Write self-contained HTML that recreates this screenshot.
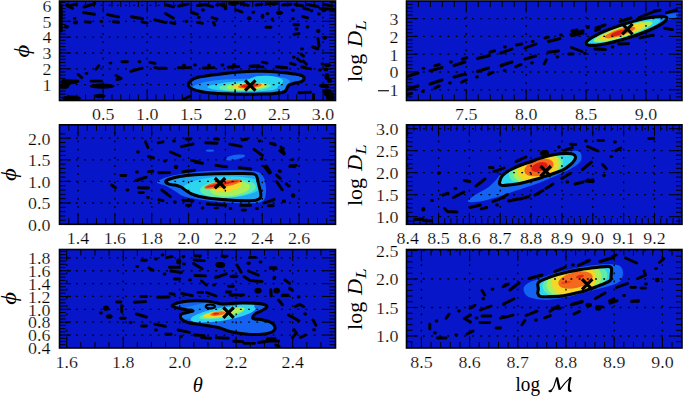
<!DOCTYPE html><html><head><meta charset="utf-8"><style>html,body{margin:0;padding:0;background:#fff}svg{display:block}</style></head><body><svg width="685" height="398" viewBox="0 0 685 398">
<style>.t{font-family:"Liberation Serif",serif;font-size:16px;fill:#000;stroke:#fff;stroke-width:0.2px}.a{font-family:"Liberation Serif",serif;font-size:20.5px;fill:#000}</style>
<rect width="685" height="398" fill="#fff"/>
<clipPath id="c0"><rect x="59.5" y="1" width="276" height="99.5"/></clipPath>
<g clip-path="url(#c0)">
<rect x="59.5" y="1" width="276" height="99.5" fill="rgb(6,22,200)"/>
<path d="M188.3 85.2C188.05 83.78 189.38 81.82 191 80.5C192.62 79.18 194.83 78.17 198 77.3C201.17 76.43 205.5 75.95 210 75.3C214.5 74.65 220 73.95 225 73.4C230 72.85 235 72.35 240 72C245 71.65 250 71.4 255 71.3C260 71.2 265.5 71.18 270 71.4C274.5 71.62 278.33 72.2 282 72.6C285.67 73 289 73.4 292 73.8C295 74.2 298 74.38 300 75C302 75.62 303.67 76.45 304 77.5C304.33 78.55 303.5 80.38 302 81.3C300.5 82.22 297.17 82.38 295 83C292.83 83.62 290.33 84.08 289 85C287.67 85.92 287.83 87.33 287 88.5C286.17 89.67 286 91.18 284 92C282 92.82 279 93.05 275 93.4C271 93.75 265 93.97 260 94.1C255 94.23 250 94.23 245 94.2C240 94.17 235 94.05 230 93.9C225 93.75 219.67 93.65 215 93.3C210.33 92.95 205.75 92.52 202 91.8C198.25 91.08 194.78 90.1 192.5 89C190.22 87.9 188.55 86.62 188.3 85.2Z" fill="rgb(20,98,242)"/>
<path d="M193 86.5C194.5 85.42 199.67 83.17 205 82C210.33 80.83 217.5 80.08 225 79.5C232.5 78.92 244.5 78.75 250 78.5C255.5 78.25 253.83 78.17 258 78C262.17 77.83 270.5 77.5 275 77.5C279.5 77.5 282.5 77.33 285 78C287.5 78.67 289.83 80.17 290 81.5C290.17 82.83 287.33 84.5 286 86C284.67 87.5 286.33 89.42 282 90.5C277.67 91.58 267.83 92.17 260 92.5C252.17 92.83 243.33 92.67 235 92.5C226.67 92.33 216.5 92.17 210 91.5C203.5 90.83 198.83 89.33 196 88.5C193.17 87.67 191.5 87.58 193 86.5Z" fill="rgb(28,150,244)"/>
<path d="M208 86.5C209.83 85.33 218.83 83.5 225 82.5C231.17 81.5 239.83 81.5 245 80.5C250.17 79.5 252.17 77.08 256 76.5C259.83 75.92 264.5 76.42 268 77C271.5 77.58 275.33 78.67 277 80C278.67 81.33 278.33 83.42 278 85C277.67 86.58 278.83 88.42 275 89.5C271.17 90.58 262.5 91.22 255 91.5C247.5 91.78 236.83 91.53 230 91.2C223.17 90.87 217.67 90.28 214 89.5C210.33 88.72 206.17 87.67 208 86.5Z" fill="rgb(44,214,238)"/>
<path d="M255 81C254 79.55 253.83 77.67 256 76.8C258.17 75.93 264.33 75.72 268 75.8C271.67 75.88 275.5 76.52 278 77.3C280.5 78.08 282.5 79.3 283 80.5C283.5 81.7 282.33 83.5 281 84.5C279.67 85.5 278.17 86.33 275 86.5C271.83 86.67 265.33 86.42 262 85.5C258.67 84.58 256 82.45 255 81Z" fill="rgb(44,214,238)"/>
<ellipse cx="245" cy="86.8" rx="26" ry="4.3" transform="rotate(-2 245 86.8)" fill="rgb(96,236,170)"/>
<ellipse cx="247" cy="86.4" rx="20" ry="3.6" transform="rotate(-3 247 86.4)" fill="rgb(170,240,90)"/>
<ellipse cx="249" cy="86" rx="16" ry="3" transform="rotate(-4 249 86)" fill="rgb(245,215,40)"/>
<ellipse cx="250" cy="85.8" rx="12" ry="2.5" transform="rotate(-5 250 85.8)" fill="rgb(245,105,28)"/>
<ellipse cx="249" cy="85.8" rx="8" ry="1.8" transform="rotate(-5 249 85.8)" fill="rgb(220,30,20)"/>
<path d="M188.3 85.2C188.05 83.78 189.38 81.82 191 80.5C192.62 79.18 194.83 78.17 198 77.3C201.17 76.43 205.5 75.95 210 75.3C214.5 74.65 220 73.95 225 73.4C230 72.85 235 72.35 240 72C245 71.65 250 71.4 255 71.3C260 71.2 265.5 71.18 270 71.4C274.5 71.62 278.33 72.2 282 72.6C285.67 73 289 73.4 292 73.8C295 74.2 298 74.38 300 75C302 75.62 303.67 76.45 304 77.5C304.33 78.55 303.5 80.38 302 81.3C300.5 82.22 297.17 82.38 295 83C292.83 83.62 290.33 84.08 289 85C287.67 85.92 287.83 87.33 287 88.5C286.17 89.67 286 91.18 284 92C282 92.82 279 93.05 275 93.4C271 93.75 265 93.97 260 94.1C255 94.23 250 94.23 245 94.2C240 94.17 235 94.05 230 93.9C225 93.75 219.67 93.65 215 93.3C210.33 92.95 205.75 92.52 202 91.8C198.25 91.08 194.78 90.1 192.5 89C190.22 87.9 188.55 86.62 188.3 85.2Z" fill="none" stroke="#000" stroke-width="3" stroke-linejoin="round" stroke-linecap="round"/>
<path d="M245.1 80.3L255.5 90.7M245.1 90.7L255.5 80.3" stroke="#000" stroke-width="3.2" stroke-linecap="butt"/>
<path d="M83.5 12.6L94.5 14.2M107.5 14.6L118.6 16.8M131.5 16.8L142.6 18.8M142 21.8L147 23M113.5 21.8L118.6 22.3M85.5 21.9L90.2 22.3M74.2 18.4L75 18.4M101.1 21.5L101.9 21.5M155 19.8L166 22.6M67.8 6.2L76.5 4.2M84 7L94.8 3.5M170.5 22.6L175 23.6M165.5 13.5L173.4 18.3M166.5 5L173.5 6.8M178.7 6L188.2 4.2M191.5 12.5L197.5 14.3M197.5 22.3L202.5 23.4M202.6 10L203.4 10M198.6 17.5L199.4 17.5M212 17.5L217 19.2M213.5 22.5L214.8 25M186.1 21.5L186.9 21.5M206 4.8L212.8 6.8M220.5 4.8L225.8 6.8M225.1 8.8L225.9 8.8M229.5 3.5L235 4.6M236.8 10L242 12M252.9 12.2L253.7 12.2M241 3.5L248 5.3M267.1 13.8L267.9 13.8M266 27.3L271 27.3M292.6 10.3L293.4 10.3M292.6 18.8L293.4 18.8M294 24.8L298.5 24.8M294 34.4L299 33.6M302.8 16.6L307.6 17.8M304 8.3L308.5 9.4M307.2 27L308 27M311.1 10.7L311.9 10.7M318.6 14L319.4 14M318 38.5L319 46M313.5 47.3L317.8 49M301.6 49L302.4 49M301 54L303.5 56M297.5 58.8L300.8 61.5M303.2 61L306.4 64.2M290.5 63.4L295.2 64.6M301.8 67L310.6 68.8M262.4 62.2L267 63.2M251 66.2L263 67M276.5 66.8L286.8 67.8M293.4 57.3L294.2 57.3M322.1 64L322.9 64M299 92.8L310.5 92.2M319.6 70L320.4 70M122 61.7L127.4 61.7M139.1 61.7L139.9 61.7M110.1 63.1L110.9 63.1M150 62.4L155 63.4M155 67.6L159 68.4M131 71.3L142 68.2M96 69.2L98.8 65.8M86.1 73.4L86.9 73.4M78.2 74.5L81.8 77.6M116 75.5L121 78.5M117 79.6L121 78.5M91 81.1L101.6 81.1M63 80.8L78 81.3M62 82.5L76 82.5M159.5 68.2L166 68.2M178.5 67.8L190 67.6M183.6 65.3L184.4 65.3M194.6 65L195.4 65M203.3 68L214 67.6M208.6 65.2L209.4 65.2M222.1 65L222.9 65M228.2 67.2L238.8 66.5M233.6 64.6L234.4 64.6M250 66.2L258.6 65.6M183 99.5L190.5 96M312.8 47L317.8 48.6M61.2 5L61.2 31M66.5 5L70.8 7.5M68.5 6.5L72.5 8.3M313.5 94.5L313.5 100M197.5 5.5L206.5 4.5M217 4.8L224 4M230 3.5L238 3.2M256 5L262 4.2M266 3.8L277 3.6M283 5L291 4.2M295 4.5L303 6M307 4.5L318 6.5M324 4.5L332 6M320 8.5L334 9.5" stroke="#000" stroke-width="2.9" stroke-linecap="round" fill="none"/>
<g fill="#000"><ellipse cx="75.5" cy="22.5" rx="2.5" ry="2"/><ellipse cx="66.5" cy="26.65" rx="2.5" ry="1.85"/><ellipse cx="249.25" cy="18.25" rx="2.25" ry="1.95"/><ellipse cx="262.55" cy="16.3" rx="1.85" ry="2.5"/><ellipse cx="272.3" cy="19.45" rx="1.6" ry="1.85"/><ellipse cx="279.5" cy="12.85" rx="3.5" ry="2.15"/><ellipse cx="296.5" cy="29.05" rx="2" ry="1.75"/><ellipse cx="318.25" cy="31" rx="2.25" ry="2"/><ellipse cx="323.8" cy="10.4" rx="2.5" ry="1.6"/><ellipse cx="324.75" cy="37.7" rx="2.25" ry="2"/><ellipse cx="326.95" cy="76.5" rx="2.45" ry="3.5"/><ellipse cx="326.6" cy="86.8" rx="2.8" ry="1.8"/><ellipse cx="329" cy="94.2" rx="5" ry="2.8"/><ellipse cx="102.1" cy="86.15" rx="12.4" ry="2.55"/><ellipse cx="64.1" cy="86.15" rx="5.1" ry="2.55"/><ellipse cx="99.85" cy="96" rx="5.85" ry="2.2"/><ellipse cx="71.5" cy="98.25" rx="9.5" ry="2.75"/><ellipse cx="327.5" cy="65" rx="3.5" ry="2"/><ellipse cx="326" cy="69.5" rx="2.5" ry="2"/><ellipse cx="329.5" cy="80.25" rx="2.5" ry="2.75"/><ellipse cx="323.25" cy="85.85" rx="4.25" ry="2.15"/><ellipse cx="327" cy="91.25" rx="4" ry="2.75"/><ellipse cx="330.25" cy="97.5" rx="4.25" ry="3"/></g>
</g>
<path d="M103.18 100.5V1M147.15 100.5V1M191.12 100.5V1M235.1 100.5V1M279.07 100.5V1M323.05 100.5V1M59.5 84.66H335.5M59.5 68.82H335.5M59.5 52.98H335.5M59.5 37.14H335.5M59.5 21.3H335.5M59.5 5.46H335.5" stroke="#000" stroke-width="1.3" stroke-dasharray="1.8 6.4" fill="none"/>
<path d="M103.18 100.5v-11.5M103.18 1v11.5M147.15 100.5v-11.5M147.15 1v11.5M191.12 100.5v-11.5M191.12 1v11.5M235.1 100.5v-11.5M235.1 1v11.5M279.07 100.5v-11.5M279.07 1v11.5M323.05 100.5v-11.5M323.05 1v11.5M59.5 84.66h11.5M335.5 84.66h-11.5M59.5 68.82h11.5M335.5 68.82h-11.5M59.5 52.98h11.5M335.5 52.98h-11.5M59.5 37.14h11.5M335.5 37.14h-11.5M59.5 21.3h11.5M335.5 21.3h-11.5M59.5 5.46h11.5M335.5 5.46h-11.5M68 100.5v-6M68 1v6M76.79 100.5v-6M76.79 1v6M85.59 100.5v-6M85.59 1v6M94.38 100.5v-6M94.38 1v6M111.97 100.5v-6M111.97 1v6M120.77 100.5v-6M120.77 1v6M129.56 100.5v-6M129.56 1v6M138.36 100.5v-6M138.36 1v6M155.94 100.5v-6M155.94 1v6M164.74 100.5v-6M164.74 1v6M173.54 100.5v-6M173.54 1v6M182.33 100.5v-6M182.33 1v6M199.92 100.5v-6M199.92 1v6M208.72 100.5v-6M208.72 1v6M217.51 100.5v-6M217.51 1v6M226.31 100.5v-6M226.31 1v6M243.9 100.5v-6M243.9 1v6M252.69 100.5v-6M252.69 1v6M261.49 100.5v-6M261.49 1v6M270.28 100.5v-6M270.28 1v6M287.87 100.5v-6M287.87 1v6M296.67 100.5v-6M296.67 1v6M305.46 100.5v-6M305.46 1v6M314.25 100.5v-6M314.25 1v6M331.85 100.5v-6M331.85 1v6M59.5 97.33h6M335.5 97.33h-6M59.5 94.16h6M335.5 94.16h-6M59.5 91h6M335.5 91h-6M59.5 87.83h6M335.5 87.83h-6M59.5 81.49h6M335.5 81.49h-6M59.5 78.32h6M335.5 78.32h-6M59.5 75.16h6M335.5 75.16h-6M59.5 71.99h6M335.5 71.99h-6M59.5 65.65h6M335.5 65.65h-6M59.5 62.48h6M335.5 62.48h-6M59.5 59.32h6M335.5 59.32h-6M59.5 56.15h6M335.5 56.15h-6M59.5 49.81h6M335.5 49.81h-6M59.5 46.64h6M335.5 46.64h-6M59.5 43.48h6M335.5 43.48h-6M59.5 40.31h6M335.5 40.31h-6M59.5 33.97h6M335.5 33.97h-6M59.5 30.8h6M335.5 30.8h-6M59.5 27.64h6M335.5 27.64h-6M59.5 24.47h6M335.5 24.47h-6M59.5 18.13h6M335.5 18.13h-6M59.5 14.96h6M335.5 14.96h-6M59.5 11.8h6M335.5 11.8h-6M59.5 8.63h6M335.5 8.63h-6M59.5 2.29h6M335.5 2.29h-6" stroke="#000" stroke-width="1" fill="none"/>
<rect x="59.5" y="1" width="276" height="99.5" fill="none" stroke="#000" stroke-width="1.6"/>
<clipPath id="c1"><rect x="59.5" y="124.8" width="276" height="99.5"/></clipPath>
<g clip-path="url(#c1)">
<rect x="59.5" y="124.8" width="276" height="99.5" fill="rgb(6,22,200)"/>
<path d="M157 182C157.5 181.08 160 179.67 163 178.5C166 177.33 169.67 176.08 175 175C180.33 173.92 187.5 172.75 195 172C202.5 171.25 211.67 170.75 220 170.5C228.33 170.25 238.67 170.25 245 170.5C251.33 170.75 254.83 170.75 258 172C261.17 173.25 262.67 175 264 178C265.33 181 266 186.33 266 190C266 193.67 265.83 197.83 264 200C262.17 202.17 259.83 202.5 255 203C250.17 203.5 241.67 203.25 235 203C228.33 202.75 221.5 202.17 215 201.5C208.5 200.83 201.33 199.92 196 199C190.67 198.08 186.67 197.42 183 196C179.33 194.58 176.83 192.17 174 190.5C171.17 188.83 168.33 187.08 166 186C163.67 184.92 161.5 184.67 160 184C158.5 183.33 156.5 182.92 157 182Z" fill="rgb(20,98,242)"/>
<clipPath id="l2c"><path d="M165.7 181.4C165.87 180.53 167.62 179.82 170 179C172.38 178.18 175.83 177.2 180 176.5C184.17 175.8 189.17 175.25 195 174.8C200.83 174.35 208.33 174 215 173.8C221.67 173.6 228.83 173.6 235 173.6C241.17 173.6 248.42 173.4 252 173.8C255.58 174.2 255.42 174.3 256.5 176C257.58 177.7 257.83 181.33 258.5 184C259.17 186.67 260.17 189.75 260.5 192C260.83 194.25 261.25 196.12 260.5 197.5C259.75 198.88 258.58 199.75 256 200.3C253.42 200.85 250.17 200.88 245 200.8C239.83 200.72 231.67 200.35 225 199.8C218.33 199.25 210.33 198.38 205 197.5C199.67 196.62 196.17 195.67 193 194.5C189.83 193.33 188 191.75 186 190.5C184 189.25 182.83 187.92 181 187C179.17 186.08 177 185.47 175 185C173 184.53 170.55 184.8 169 184.2C167.45 183.6 165.53 182.27 165.7 181.4Z"/></clipPath>
<g clip-path="url(#l2c)">
<path d="M165.7 181.4C165.87 180.53 167.62 179.82 170 179C172.38 178.18 175.83 177.2 180 176.5C184.17 175.8 189.17 175.25 195 174.8C200.83 174.35 208.33 174 215 173.8C221.67 173.6 228.83 173.6 235 173.6C241.17 173.6 248.42 173.4 252 173.8C255.58 174.2 255.42 174.3 256.5 176C257.58 177.7 257.83 181.33 258.5 184C259.17 186.67 260.17 189.75 260.5 192C260.83 194.25 261.25 196.12 260.5 197.5C259.75 198.88 258.58 199.75 256 200.3C253.42 200.85 250.17 200.88 245 200.8C239.83 200.72 231.67 200.35 225 199.8C218.33 199.25 210.33 198.38 205 197.5C199.67 196.62 196.17 195.67 193 194.5C189.83 193.33 188 191.75 186 190.5C184 189.25 182.83 187.92 181 187C179.17 186.08 177 185.47 175 185C173 184.53 170.55 184.8 169 184.2C167.45 183.6 165.53 182.27 165.7 181.4Z" fill="rgb(34,168,243)"/>
<ellipse cx="222" cy="187.5" rx="40" ry="11" transform="rotate(-3 222 187.5)" fill="rgb(44,214,238)"/>
<ellipse cx="228" cy="188.5" rx="28" ry="9" transform="rotate(-4 228 188.5)" fill="rgb(96,236,170)"/>
<ellipse cx="230" cy="188.5" rx="20" ry="7.5" transform="rotate(-6 230 188.5)" fill="rgb(170,240,90)"/>
<ellipse cx="228" cy="186.5" rx="14" ry="5" transform="rotate(-10 228 186.5)" fill="rgb(245,215,40)"/>
<ellipse cx="223" cy="184" rx="19" ry="3.2" transform="rotate(-11 223 184)" fill="rgb(245,105,28)"/>
<ellipse cx="222" cy="184" rx="17" ry="1.3" transform="rotate(-11 222 184)" fill="rgb(220,30,20)"/>
</g>
<path d="M165.7 181.4C165.87 180.53 167.62 179.82 170 179C172.38 178.18 175.83 177.2 180 176.5C184.17 175.8 189.17 175.25 195 174.8C200.83 174.35 208.33 174 215 173.8C221.67 173.6 228.83 173.6 235 173.6C241.17 173.6 248.42 173.4 252 173.8C255.58 174.2 255.42 174.3 256.5 176C257.58 177.7 257.83 181.33 258.5 184C259.17 186.67 260.17 189.75 260.5 192C260.83 194.25 261.25 196.12 260.5 197.5C259.75 198.88 258.58 199.75 256 200.3C253.42 200.85 250.17 200.88 245 200.8C239.83 200.72 231.67 200.35 225 199.8C218.33 199.25 210.33 198.38 205 197.5C199.67 196.62 196.17 195.67 193 194.5C189.83 193.33 188 191.75 186 190.5C184 189.25 182.83 187.92 181 187C179.17 186.08 177 185.47 175 185C173 184.53 170.55 184.8 169 184.2C167.45 183.6 165.53 182.27 165.7 181.4Z" fill="none" stroke="#000" stroke-width="3" stroke-linejoin="round" stroke-linecap="round"/>
<path d="M214.8 178L225.2 188.4M214.8 188.4L225.2 178" stroke="#000" stroke-width="3.2" stroke-linecap="butt"/>
<ellipse cx="210" cy="150.6" rx="4.2" ry="1.2" transform="rotate(0 210 150.6)" fill="rgb(20,98,242)"/>
<path d="M226.5 158C227.17 157.18 229.75 156.17 232 155.6C234.25 155.03 237.83 154.67 240 154.6C242.17 154.53 244.5 154.72 245 155.2C245.5 155.68 244.5 156.78 243 157.5C241.5 158.22 238.5 159 236 159.5C233.5 160 229.58 160.75 228 160.5C226.42 160.25 225.83 158.82 226.5 158Z" fill="rgb(20,98,242)"/>
<path d="M158.2 142.8L163 141.8M145.5 141.8L148 147.6M173.6 141L174.4 141M181.5 146.6L193 144M186 139L190.6 139M137.6 152L138.4 152M170.5 152L179.8 156M148.5 156.5L153.5 158M164.6 161L165.4 161M191.6 160.4L199.5 162.2M148.5 171.8L152.8 171.3M158.8 172.8L169.5 172.6M183 171.8L194.5 170.2M136.6 172L137.4 172M205.7 142.8L217.1 143.2M214.5 138.9L218.5 139.2M229.8 144.2L241.2 146.4M242.2 140L247.1 139M254 149.3L262.4 155.5M270.7 143.4L274.8 144.2M281 147L284.3 153.4M195.5 162.4L202.5 163.3M215.9 165.4L226.5 166.7M239.3 167.6L250.7 169M264.2 166.2L269.6 173M290.5 165.8L294.5 166.8M259.1 141L259.9 141M261.1 159L261.9 159M279.1 171L279.9 171M270.5 143.3L275.3 145M282.6 148.4L283.4 148.4M279.8 150.6L284.2 154M292 159.6L292.8 159.6M289.8 166.2L296.2 165.4M266.5 166L270.5 172.5M279.6 171.5L280.4 171.5M121 175.5L125.7 175.5M136.3 180.5L146.2 177.2M111.5 185L115.5 187.8M127.1 190L127.9 190M138.5 187.8L148.5 188M139.2 192.6L143.3 192.6M147.6 197.5L148.4 197.5M161.8 190L170.3 196.6M159 199.8L163 200.7M174.6 202L175.4 202M183 200.2L193 200.7M186.5 205.4L190.5 205.4M207.2 204L225.9 205.2M240.8 205.4L250.7 205.4M242.2 210.1L245.5 210.1M264.2 203L274 199.6M268.5 205.8L273.3 205.8M202.1 208L202.9 208M230.1 208.5L230.9 208.5M256.6 208.5L257.4 208.5M276.5 175.2L280.4 178.6M276.8 181.8L282.2 189.8M286.1 184L286.9 184M293.1 196L293.9 196M283.3 201L284.1 201M288.4 186L289.2 186M283.8 201.5L284.6 201.5" stroke="#000" stroke-width="2.9" stroke-linecap="round" fill="none"/>
<g fill="#000"><ellipse cx="176" cy="167" rx="2.2" ry="2.2"/><ellipse cx="216.25" cy="208.05" rx="2.75" ry="1.25"/><ellipse cx="293.1" cy="195.5" rx="2.1" ry="2.3"/></g>
</g>
<path d="M78.05 224.3V124.8M114.89 224.3V124.8M151.73 224.3V124.8M188.57 224.3V124.8M225.41 224.3V124.8M262.25 224.3V124.8M299.09 224.3V124.8M59.5 203H335.5M59.5 181.4H335.5M59.5 159.8H335.5M59.5 138.2H335.5" stroke="#000" stroke-width="1.3" stroke-dasharray="1.8 6.4" fill="none"/>
<path d="M78.05 224.3v-11.5M78.05 124.8v11.5M114.89 224.3v-11.5M114.89 124.8v11.5M151.73 224.3v-11.5M151.73 124.8v11.5M188.57 224.3v-11.5M188.57 124.8v11.5M225.41 224.3v-11.5M225.41 124.8v11.5M262.25 224.3v-11.5M262.25 124.8v11.5M299.09 224.3v-11.5M299.09 124.8v11.5M59.5 203h11.5M335.5 203h-11.5M59.5 181.4h11.5M335.5 181.4h-11.5M59.5 159.8h11.5M335.5 159.8h-11.5M59.5 138.2h11.5M335.5 138.2h-11.5M68.84 224.3v-6M68.84 124.8v6M87.26 224.3v-6M87.26 124.8v6M96.47 224.3v-6M96.47 124.8v6M105.68 224.3v-6M105.68 124.8v6M124.1 224.3v-6M124.1 124.8v6M133.31 224.3v-6M133.31 124.8v6M142.52 224.3v-6M142.52 124.8v6M160.94 224.3v-6M160.94 124.8v6M170.15 224.3v-6M170.15 124.8v6M179.36 224.3v-6M179.36 124.8v6M197.78 224.3v-6M197.78 124.8v6M206.99 224.3v-6M206.99 124.8v6M216.2 224.3v-6M216.2 124.8v6M234.62 224.3v-6M234.62 124.8v6M243.83 224.3v-6M243.83 124.8v6M253.04 224.3v-6M253.04 124.8v6M271.46 224.3v-6M271.46 124.8v6M280.67 224.3v-6M280.67 124.8v6M289.88 224.3v-6M289.88 124.8v6M308.3 224.3v-6M308.3 124.8v6M317.51 224.3v-6M317.51 124.8v6M326.72 224.3v-6M326.72 124.8v6M59.5 220.28h6M335.5 220.28h-6M59.5 215.96h6M335.5 215.96h-6M59.5 211.64h6M335.5 211.64h-6M59.5 207.32h6M335.5 207.32h-6M59.5 198.68h6M335.5 198.68h-6M59.5 194.36h6M335.5 194.36h-6M59.5 190.04h6M335.5 190.04h-6M59.5 185.72h6M335.5 185.72h-6M59.5 177.08h6M335.5 177.08h-6M59.5 172.76h6M335.5 172.76h-6M59.5 168.44h6M335.5 168.44h-6M59.5 164.12h6M335.5 164.12h-6M59.5 155.48h6M335.5 155.48h-6M59.5 151.16h6M335.5 151.16h-6M59.5 146.84h6M335.5 146.84h-6M59.5 142.52h6M335.5 142.52h-6M59.5 133.88h6M335.5 133.88h-6" stroke="#000" stroke-width="1" fill="none"/>
<rect x="59.5" y="124.8" width="276" height="99.5" fill="none" stroke="#000" stroke-width="1.6"/>
<clipPath id="c2"><rect x="59.5" y="249.5" width="276" height="98.5"/></clipPath>
<g clip-path="url(#c2)">
<rect x="59.5" y="249.5" width="276" height="98.5" fill="rgb(6,22,200)"/>
<path d="M172.5 306.3C171.17 305.17 175.08 303.68 178 302.8C180.92 301.92 185.5 301.3 190 301C194.5 300.7 200.83 300.75 205 301C209.17 301.25 212.17 302 215 302.5C217.83 303 217.83 303.92 222 304C226.17 304.08 234.5 303.12 240 303C245.5 302.88 251.08 303.08 255 303.3C258.92 303.52 261.5 303.68 263.5 304.3C265.5 304.92 267.25 305.97 267 307C266.75 308.03 264 309.33 262 310.5C260 311.67 256.5 312.67 255 314C253.5 315.33 251.83 317.53 253 318.5C254.17 319.47 259 319.13 262 319.8C265 320.47 268.83 321.22 271 322.5C273.17 323.78 274.83 325.92 275 327.5C275.17 329.08 274.17 330.87 272 332C269.83 333.13 266.5 333.97 262 334.3C257.5 334.63 250.33 334.47 245 334C239.67 333.53 234.5 332.58 230 331.5C225.5 330.42 223 328.67 218 327.5C213 326.33 205 325.33 200 324.5C195 323.67 191.08 323.42 188 322.5C184.92 321.58 182.67 320.33 181.5 319C180.33 317.67 180.08 315.58 181 314.5C181.92 313.42 185 313.12 187 312.5C189 311.88 193.17 311.28 193 310.8C192.83 310.32 189.42 310.35 186 309.6C182.58 308.85 173.83 307.43 172.5 306.3Z" fill="rgb(20,98,242)"/>
<clipPath id="l3c"><path d="M172.5 306.3C171.17 305.17 175.08 303.68 178 302.8C180.92 301.92 185.5 301.3 190 301C194.5 300.7 200.83 300.75 205 301C209.17 301.25 212.17 302 215 302.5C217.83 303 217.83 303.92 222 304C226.17 304.08 234.5 303.12 240 303C245.5 302.88 251.08 303.08 255 303.3C258.92 303.52 261.5 303.68 263.5 304.3C265.5 304.92 267.25 305.97 267 307C266.75 308.03 264 309.33 262 310.5C260 311.67 256.5 312.67 255 314C253.5 315.33 251.83 317.53 253 318.5C254.17 319.47 259 319.13 262 319.8C265 320.47 268.83 321.22 271 322.5C273.17 323.78 274.83 325.92 275 327.5C275.17 329.08 274.17 330.87 272 332C269.83 333.13 266.5 333.97 262 334.3C257.5 334.63 250.33 334.47 245 334C239.67 333.53 234.5 332.58 230 331.5C225.5 330.42 223 328.67 218 327.5C213 326.33 205 325.33 200 324.5C195 323.67 191.08 323.42 188 322.5C184.92 321.58 182.67 320.33 181.5 319C180.33 317.67 180.08 315.58 181 314.5C181.92 313.42 185 313.12 187 312.5C189 311.88 193.17 311.28 193 310.8C192.83 310.32 189.42 310.35 186 309.6C182.58 308.85 173.83 307.43 172.5 306.3Z"/></clipPath>
<g clip-path="url(#l3c)">
<ellipse cx="210" cy="310" rx="36" ry="7.5" transform="rotate(-8 210 310)" fill="rgb(26,130,244)"/>
<ellipse cx="223" cy="314" rx="33" ry="6.5" transform="rotate(-10 223 314)" fill="rgb(44,214,238)"/>
<ellipse cx="238" cy="309" rx="17" ry="4" transform="rotate(-12 238 309)" fill="rgb(44,214,238)"/>
<ellipse cx="221" cy="314.3" rx="22" ry="3.8" transform="rotate(-9 221 314.3)" fill="rgb(96,236,170)"/>
<ellipse cx="236" cy="310.5" rx="9" ry="2.6" transform="rotate(-12 236 310.5)" fill="rgb(170,240,90)"/>
<ellipse cx="218" cy="314.2" rx="15" ry="3.2" transform="rotate(-9 218 314.2)" fill="rgb(245,215,40)"/>
<ellipse cx="218" cy="313.6" rx="8" ry="2" transform="rotate(-8 218 313.6)" fill="rgb(245,105,28)"/>
<ellipse cx="216" cy="313.7" rx="3.2" ry="1" transform="rotate(-5 216 313.7)" fill="rgb(220,30,20)"/>
</g>
<path d="M172.5 306.3C171.17 305.17 175.08 303.68 178 302.8C180.92 301.92 185.5 301.3 190 301C194.5 300.7 200.83 300.75 205 301C209.17 301.25 212.17 302 215 302.5C217.83 303 217.83 303.92 222 304C226.17 304.08 234.5 303.12 240 303C245.5 302.88 251.08 303.08 255 303.3C258.92 303.52 261.5 303.68 263.5 304.3C265.5 304.92 267.25 305.97 267 307C266.75 308.03 264 309.33 262 310.5C260 311.67 256.5 312.67 255 314C253.5 315.33 251.83 317.53 253 318.5C254.17 319.47 259 319.13 262 319.8C265 320.47 268.83 321.22 271 322.5C273.17 323.78 274.83 325.92 275 327.5C275.17 329.08 274.17 330.87 272 332C269.83 333.13 266.5 333.97 262 334.3C257.5 334.63 250.33 334.47 245 334C239.67 333.53 234.5 332.58 230 331.5C225.5 330.42 223 328.67 218 327.5C213 326.33 205 325.33 200 324.5C195 323.67 191.08 323.42 188 322.5C184.92 321.58 182.67 320.33 181.5 319C180.33 317.67 180.08 315.58 181 314.5C181.92 313.42 185 313.12 187 312.5C189 311.88 193.17 311.28 193 310.8C192.83 310.32 189.42 310.35 186 309.6C182.58 308.85 173.83 307.43 172.5 306.3Z" fill="none" stroke="#000" stroke-width="3" stroke-linejoin="round" stroke-linecap="round"/>
<ellipse cx="210.3" cy="306.4" rx="4.6" ry="1.9" fill="none" stroke="#000" stroke-width="2.2"/>
<path d="M223.3 307.4L233.7 317.8M223.3 317.8L233.7 307.4" stroke="#000" stroke-width="3.2" stroke-linecap="butt"/>
<path d="M141.8 260.3L146.4 260.3M155.6 259L156.4 259M162.1 255L162.9 255M166.5 257.6L172 256.6M183.1 256.5L183.9 256.5M183.6 264L184.4 264M194.2 260L204.2 260.6M195 255.9L200.5 255.9M136.8 266.5L137.6 266.5M149 268L153 270.2M169.5 267.2L179.5 267.4M171 271L181.5 272.4M193.5 263.5L202 268.8M164.1 274L164.9 274M195 275.5L205.5 275.9M174.5 279L179.5 279M189.6 280L190.4 280M201.5 281L206.4 285M216 276.7L219.6 276.7M213.6 285L214.4 285M141 296.5L146.4 296.5M157.7 297.2L169 297M170 293.6L174.2 294.3M181.8 293.5L192.5 295.7M198 292.4L202.6 292.4M206.5 292.5L216 296M222 256.3L227 256.3M237 265L241.2 272.3M249.8 257.4L255.4 257.4M260.1 262L260.9 262M248.3 271L258.3 275.2M270.2 267.6L275.8 267.6M215.5 277.6L226.2 273.8M244 276.5L250 280.5M250 280.5L262 281.5M274.1 277.5L274.9 277.5M285 280L289.5 283.4M228.7 286.2L233.4 286.2M226.6 292L230.4 292M282.5 295.3L287.5 295.3M289.6 289L290.4 289M230.2 295L243.6 295M270.3 268.4L276.2 268.6M273.8 278.5L274.6 278.5M270.8 289.8L271.2 296M289.8 288L292.4 290.4M282.3 295.5L288 295.5M298.3 297L299.1 297M116.8 302L120.9 302M134.4 302.2L145.6 301.6M121.7 305.6L121.8 312M100.6 313L101.4 313M120.6 318.3L125.2 318.3M130.1 322.5L130.9 322.5M136.6 314L146.4 317M141.6 326L146.4 326M154.8 324.2L165.4 326.4M155.6 330L156.4 330M165.8 334.3L171.2 334.3M178.2 330L189.4 332.4M180.6 336.5L181.4 336.5M194.4 335L204.2 335.6M201.6 337.5L210.7 338.3M216.3 337.6L228.2 338.2M233.8 341.2L242.8 341.6M244 343.2L254.4 343.4M258.6 342.5L267.6 341.2M267.3 339L275 338.7M278.5 300L282.5 304.8M295.5 306.5L299.5 304.2M299.5 304.2L303.8 306.8M304.9 314L305.7 314M288.5 315L298.8 320.8M313 320L316 325.2M313.6 329.8L314.4 329.8M294 329.5L296.4 333M296.4 333L292.6 337.4M300.5 337.3L305.7 335M268.5 341L278.7 341M275.8 345L279 346.4" stroke="#000" stroke-width="2.9" stroke-linecap="round" fill="none"/>
<g fill="#000"><ellipse cx="178.75" cy="261.4" rx="2.55" ry="2.9"/><ellipse cx="218.05" cy="264.6" rx="2.45" ry="2.6"/><ellipse cx="220.45" cy="265.05" rx="4.75" ry="2.95"/><ellipse cx="248.6" cy="263.2" rx="2.2" ry="1.8"/><ellipse cx="234" cy="276.35" rx="4.4" ry="1.85"/><ellipse cx="258.05" cy="290.6" rx="3.65" ry="2.9"/><ellipse cx="276.7" cy="290.6" rx="3.3" ry="2.9"/><ellipse cx="106.05" cy="308.15" rx="2.95" ry="2.55"/><ellipse cx="109.3" cy="316.5" rx="3.3" ry="2.2"/></g>
</g>
<path d="M66.7 348V249.5M123.2 348V249.5M179.7 348V249.5M236.2 348V249.5M292.7 348V249.5M59.5 335.04H335.5M59.5 322.18H335.5M59.5 309.32H335.5M59.5 296.46H335.5M59.5 283.6H335.5M59.5 270.74H335.5M59.5 257.88H335.5" stroke="#000" stroke-width="1.3" stroke-dasharray="1.8 6.4" fill="none"/>
<path d="M66.7 348v-11.5M66.7 249.5v11.5M123.2 348v-11.5M123.2 249.5v11.5M179.7 348v-11.5M179.7 249.5v11.5M236.2 348v-11.5M236.2 249.5v11.5M292.7 348v-11.5M292.7 249.5v11.5M59.5 335.04h11.5M335.5 335.04h-11.5M59.5 322.18h11.5M335.5 322.18h-11.5M59.5 309.32h11.5M335.5 309.32h-11.5M59.5 296.46h11.5M335.5 296.46h-11.5M59.5 283.6h11.5M335.5 283.6h-11.5M59.5 270.74h11.5M335.5 270.74h-11.5M59.5 257.88h11.5M335.5 257.88h-11.5M80.82 348v-6M80.82 249.5v6M94.95 348v-6M94.95 249.5v6M109.07 348v-6M109.07 249.5v6M137.32 348v-6M137.32 249.5v6M151.45 348v-6M151.45 249.5v6M165.57 348v-6M165.57 249.5v6M193.82 348v-6M193.82 249.5v6M207.95 348v-6M207.95 249.5v6M222.07 348v-6M222.07 249.5v6M250.32 348v-6M250.32 249.5v6M264.45 348v-6M264.45 249.5v6M278.57 348v-6M278.57 249.5v6M306.83 348v-6M306.83 249.5v6M320.95 348v-6M320.95 249.5v6M59.5 344.69h6M335.5 344.69h-6M59.5 341.47h6M335.5 341.47h-6M59.5 338.25h6M335.5 338.25h-6M59.5 331.82h6M335.5 331.82h-6M59.5 328.61h6M335.5 328.61h-6M59.5 325.39h6M335.5 325.39h-6M59.5 318.96h6M335.5 318.96h-6M59.5 315.75h6M335.5 315.75h-6M59.5 312.53h6M335.5 312.53h-6M59.5 306.1h6M335.5 306.1h-6M59.5 302.89h6M335.5 302.89h-6M59.5 299.68h6M335.5 299.68h-6M59.5 293.25h6M335.5 293.25h-6M59.5 290.03h6M335.5 290.03h-6M59.5 286.81h6M335.5 286.81h-6M59.5 280.38h6M335.5 280.38h-6M59.5 277.17h6M335.5 277.17h-6M59.5 273.95h6M335.5 273.95h-6M59.5 267.52h6M335.5 267.52h-6M59.5 264.31h6M335.5 264.31h-6M59.5 261.09h6M335.5 261.09h-6M59.5 254.66h6M335.5 254.66h-6M59.5 251.45h6M335.5 251.45h-6" stroke="#000" stroke-width="1" fill="none"/>
<rect x="59.5" y="249.5" width="276" height="98.5" fill="none" stroke="#000" stroke-width="1.6"/>
<clipPath id="c3"><rect x="406.5" y="1" width="275.5" height="99.5"/></clipPath>
<g clip-path="url(#c3)">
<rect x="406.5" y="1" width="275.5" height="99.5" fill="rgb(6,22,200)"/>
<path d="M655 19C655.67 17.87 664.17 15.1 668 14.2C671.83 13.3 676.67 13.05 678 13.6C679.33 14.15 678.33 16.27 676 17.5C673.67 18.73 667.5 20.75 664 21C660.5 21.25 654.33 20.13 655 19Z" fill="rgb(20,98,242)"/>
<ellipse cx="626.4" cy="30.9" rx="44.5" ry="8.6" transform="rotate(-17.5 626.4 30.9)" fill="rgb(20,98,242)"/>
<ellipse cx="626.4" cy="30.9" rx="42.5" ry="7.2" transform="rotate(-17.5 626.4 30.9)" fill="rgb(28,150,244)"/>
<ellipse cx="624" cy="31.6" rx="38" ry="6.3" transform="rotate(-17.5 624 31.6)" fill="rgb(44,214,238)"/>
<ellipse cx="623" cy="31.8" rx="31" ry="5.2" transform="rotate(-17.5 623 31.8)" fill="rgb(170,240,90)"/>
<ellipse cx="622" cy="32" rx="24" ry="4.3" transform="rotate(-17.5 622 32)" fill="rgb(245,215,40)"/>
<ellipse cx="620" cy="32.5" rx="16" ry="3.3" transform="rotate(-17.5 620 32.5)" fill="rgb(245,105,28)"/>
<ellipse cx="619" cy="32.8" rx="9" ry="2.2" transform="rotate(-17.5 619 32.8)" fill="rgb(220,30,20)"/>
<ellipse cx="626.4" cy="30.9" rx="42.5" ry="7.2" transform="rotate(-17.5 626.4 30.9)" fill="none"/>
<ellipse cx="626.4" cy="30.9" rx="42.5" ry="7.2" transform="rotate(-17.5 626.4 30.9)" fill="none" stroke="#000" stroke-width="3.2"/>
<path d="M622.2 23.9L632.6 34.3M622.2 34.3L632.6 23.9" stroke="#000" stroke-width="3.2" stroke-linecap="butt"/>
<path d="M407 76.5L418 73M430 70.8L442 67.5M435 65.6L439.2 64.6M454 65.5L465 62M462.5 59.2L466.8 57.7M450.6 62L451.4 62M477.5 58.5L489.5 55.5M490 52.2L494.6 50.8M500.8 53L505.6 51.5M423.1 68.4L423.9 68.4M407 89.5L418 86M430 84L442 80M434.8 88.3L439.3 85.9M454 77L465 74M461.6 82.2L466.2 80M449.6 83L450.4 83M477.5 71.5L488.5 68M488.5 74.4L493 72.3M476.6 77L477.4 77M501.3 66L505.7 63.8M406.5 94.5L411.5 93.5M422.6 91.5L423.4 91.5M501 53L512 49M516.5 45L521.7 44M525 48L536 44M532.4 41.5L533.2 41.5M545 38L548.5 37.2M548.5 41.5L560 38.5M560.6 35L561.4 35M572 31L577 30M573 35.5L583 33M587.4 27.5L588.2 27.5M595.5 30.5L599.5 29.2M501 65.5L512 62M515.8 66.8L521 64.4M525 59.2L535.5 56M531.6 63L532.4 63M544.2 63.8L546.3 59.8M548 52.3L558.5 51M557.1 57L557.9 57M568.8 54L573.1 54M571.5 47.5L582 51.5M504.2 70.5L505 70.5M504.6 47L505.4 47M595 49L605.5 49.5M618.8 44L628.5 43.6M640 37.8L653.2 35.2M584.6 53.5L585.4 53.5M612.1 47L612.9 47M571 34.5L583 31M596 28L605 25M620 21.5L631 18M639 17.5L653 12M654 11.2L660 10.2M666.5 12.6L676.2 10M664.5 28.2L672.5 29.6M587.6 26.5L588.4 26.5" stroke="#000" stroke-width="2.9" stroke-linecap="round" fill="none"/>
<g fill="#000"></g>
</g>
<path d="M466.3 100.5V1M526.2 100.5V1M586.1 100.5V1M646 100.5V1M406.5 89.8H682M406.5 72H682M406.5 54.2H682M406.5 36.4H682M406.5 18.6H682" stroke="#000" stroke-width="1.3" stroke-dasharray="1.8 6.4" fill="none"/>
<path d="M466.3 100.5v-11.5M466.3 1v11.5M526.2 100.5v-11.5M526.2 1v11.5M586.1 100.5v-11.5M586.1 1v11.5M646 100.5v-11.5M646 1v11.5M406.5 89.8h11.5M682 89.8h-11.5M406.5 72h11.5M682 72h-11.5M406.5 54.2h11.5M682 54.2h-11.5M406.5 36.4h11.5M682 36.4h-11.5M406.5 18.6h11.5M682 18.6h-11.5M418.38 100.5v-6M418.38 1v6M430.36 100.5v-6M430.36 1v6M442.34 100.5v-6M442.34 1v6M454.32 100.5v-6M454.32 1v6M478.28 100.5v-6M478.28 1v6M490.26 100.5v-6M490.26 1v6M502.24 100.5v-6M502.24 1v6M514.22 100.5v-6M514.22 1v6M538.18 100.5v-6M538.18 1v6M550.16 100.5v-6M550.16 1v6M562.14 100.5v-6M562.14 1v6M574.12 100.5v-6M574.12 1v6M598.08 100.5v-6M598.08 1v6M610.06 100.5v-6M610.06 1v6M622.04 100.5v-6M622.04 1v6M634.02 100.5v-6M634.02 1v6M657.98 100.5v-6M657.98 1v6M669.96 100.5v-6M669.96 1v6M406.5 96.92h6M682 96.92h-6M406.5 93.36h6M682 93.36h-6M406.5 86.24h6M682 86.24h-6M406.5 82.68h6M682 82.68h-6M406.5 79.12h6M682 79.12h-6M406.5 75.56h6M682 75.56h-6M406.5 68.44h6M682 68.44h-6M406.5 64.88h6M682 64.88h-6M406.5 61.32h6M682 61.32h-6M406.5 57.76h6M682 57.76h-6M406.5 50.64h6M682 50.64h-6M406.5 47.08h6M682 47.08h-6M406.5 43.52h6M682 43.52h-6M406.5 39.96h6M682 39.96h-6M406.5 32.84h6M682 32.84h-6M406.5 29.28h6M682 29.28h-6M406.5 25.72h6M682 25.72h-6M406.5 22.16h6M682 22.16h-6M406.5 15.04h6M682 15.04h-6M406.5 11.48h6M682 11.48h-6M406.5 7.92h6M682 7.92h-6M406.5 4.36h6M682 4.36h-6" stroke="#000" stroke-width="1" fill="none"/>
<rect x="406.5" y="1" width="275.5" height="99.5" fill="none" stroke="#000" stroke-width="1.6"/>
<clipPath id="c4"><rect x="406.5" y="124.8" width="275.5" height="99.5"/></clipPath>
<g clip-path="url(#c4)">
<rect x="406.5" y="124.8" width="275.5" height="99.5" fill="rgb(6,22,200)"/>
<path d="M467.8 201.2C467.47 199.98 472.63 196.78 476 194.5C479.37 192.22 484.67 189.92 488 187.5C491.33 185.08 494 182.08 496 180C498 177.92 497.67 176.92 500 175C502.33 173.08 506.67 170.25 510 168.5C513.33 166.75 514.17 166.42 520 164.5C525.83 162.58 536.67 159.22 545 157C553.33 154.78 564.33 152.12 570 151.2C575.67 150.28 577.08 150.7 579 151.5C580.92 152.3 581.33 154.25 581.5 156C581.67 157.75 581.58 160 580 162C578.42 164 575.33 166 572 168C568.67 170 565.33 171.58 560 174C554.67 176.42 547.5 179.67 540 182.5C532.5 185.33 522.5 188.47 515 191C507.5 193.53 501.17 195.9 495 197.7C488.83 199.5 482.53 201.22 478 201.8C473.47 202.38 468.13 202.42 467.8 201.2Z" fill="rgb(20,98,242)"/>
<clipPath id="r2c"><path d="M499.5 182.3C499.8 180.72 500.75 177.55 502.5 175.5C504.25 173.45 507.08 171.67 510 170C512.92 168.33 516.67 166.83 520 165.5C523.33 164.17 526.67 163.2 530 162C533.33 160.8 536.67 159.38 540 158.3C543.33 157.22 546.67 156.25 550 155.5C553.33 154.75 557 154.13 560 153.8C563 153.47 565.83 153.43 568 153.5C570.17 153.57 571.75 153.65 573 154.2C574.25 154.75 575.28 155.75 575.5 156.8C575.72 157.85 575.22 159.13 574.3 160.5C573.38 161.87 571.72 163.53 570 165C568.28 166.47 566.5 167.97 564 169.3C561.5 170.63 558.17 171.83 555 173C551.83 174.17 548.33 175.22 545 176.3C541.67 177.38 538.33 178.52 535 179.5C531.67 180.48 528.33 181.42 525 182.2C521.67 182.98 518.33 183.67 515 184.2C511.67 184.73 507.38 185.27 505 185.4C502.62 185.53 501.62 185.52 500.7 185C499.78 184.48 499.2 183.88 499.5 182.3Z"/></clipPath>
<g clip-path="url(#r2c)">
<path d="M499.5 182.3C499.8 180.72 500.75 177.55 502.5 175.5C504.25 173.45 507.08 171.67 510 170C512.92 168.33 516.67 166.83 520 165.5C523.33 164.17 526.67 163.2 530 162C533.33 160.8 536.67 159.38 540 158.3C543.33 157.22 546.67 156.25 550 155.5C553.33 154.75 557 154.13 560 153.8C563 153.47 565.83 153.43 568 153.5C570.17 153.57 571.75 153.65 573 154.2C574.25 154.75 575.28 155.75 575.5 156.8C575.72 157.85 575.22 159.13 574.3 160.5C573.38 161.87 571.72 163.53 570 165C568.28 166.47 566.5 167.97 564 169.3C561.5 170.63 558.17 171.83 555 173C551.83 174.17 548.33 175.22 545 176.3C541.67 177.38 538.33 178.52 535 179.5C531.67 180.48 528.33 181.42 525 182.2C521.67 182.98 518.33 183.67 515 184.2C511.67 184.73 507.38 185.27 505 185.4C502.62 185.53 501.62 185.52 500.7 185C499.78 184.48 499.2 183.88 499.5 182.3Z" fill="rgb(44,214,238)"/>
<ellipse cx="536" cy="168.3" rx="28" ry="14" transform="rotate(-17 536 168.3)" fill="rgb(96,236,170)"/>
<ellipse cx="537" cy="168" rx="24.5" ry="14" transform="rotate(-17 537 168)" fill="rgb(170,240,90)"/>
<ellipse cx="538" cy="167.5" rx="21" ry="14" transform="rotate(-17 538 167.5)" fill="rgb(245,215,40)"/>
<ellipse cx="539" cy="167.5" rx="15" ry="8" transform="rotate(-17 539 167.5)" fill="rgb(245,105,28)"/>
<ellipse cx="539.5" cy="167" rx="8.5" ry="4.5" transform="rotate(-17 539.5 167)" fill="rgb(220,30,20)"/>
</g>
<path d="M499.5 182.3C499.8 180.72 500.75 177.55 502.5 175.5C504.25 173.45 507.08 171.67 510 170C512.92 168.33 516.67 166.83 520 165.5C523.33 164.17 526.67 163.2 530 162C533.33 160.8 536.67 159.38 540 158.3C543.33 157.22 546.67 156.25 550 155.5C553.33 154.75 557 154.13 560 153.8C563 153.47 565.83 153.43 568 153.5C570.17 153.57 571.75 153.65 573 154.2C574.25 154.75 575.28 155.75 575.5 156.8C575.72 157.85 575.22 159.13 574.3 160.5C573.38 161.87 571.72 163.53 570 165C568.28 166.47 566.5 167.97 564 169.3C561.5 170.63 558.17 171.83 555 173C551.83 174.17 548.33 175.22 545 176.3C541.67 177.38 538.33 178.52 535 179.5C531.67 180.48 528.33 181.42 525 182.2C521.67 182.98 518.33 183.67 515 184.2C511.67 184.73 507.38 185.27 505 185.4C502.62 185.53 501.62 185.52 500.7 185C499.78 184.48 499.2 183.88 499.5 182.3Z" fill="none" stroke="#000" stroke-width="3.1" stroke-linejoin="round" stroke-linecap="round"/>
<path d="M540.5 166L550.9 176.4M540.5 176.4L550.9 166" stroke="#000" stroke-width="3.2" stroke-linecap="butt"/>
<path d="M489.3 167.4L493.1 167.8M494 171.5L504 168M476 186L485 179M464.5 180.5L469.8 181.5M453.5 197.5L464 192M443 195.2L448 193.2M455.1 188.5L455.9 188.5M431.6 200.5L432.4 200.5M470 207.5L480.3 205M481.3 208.9L486.7 207.5M493 201.5L504 197.5M444.5 208.5L447.5 211.5M447.5 211.5L457 212M415 219.5L423 219M423 220.5L431 221M496.6 205L497.4 205M438.6 173L439.4 173M570.8 144.2L575.8 144.5M565 150.2L572.4 147.6M587.5 146.5L598 151M516 161.5L526 157M558.6 147L559.4 147M582.5 169.5L591.5 162.2M561.8 178.5L570.1 173.6M588 180L593 181.5M598 140.4L603.3 140.4M614.6 142L615.4 142M615.8 150.8L620.7 148M610.9 156.6L611.7 156.6M583.5 168.6L591 162.3M602.6 164.5L606.3 168.6M648.8 138.5L653.7 138.5M603.6 175.5L604.4 175.5M588.8 181.6L593.3 181.6M585.6 141L586.4 141M535 195L543 190.5M546 188.5L553 184M508.5 201L518 199M520 199L529 196.7M567 182L567.8 182M575 184L583 182M586 181L593 180M500.5 198.5L507.5 194.5" stroke="#000" stroke-width="2.9" stroke-linecap="round" fill="none"/>
<g fill="#000"><ellipse cx="423.4" cy="209.2" rx="1.9" ry="2.2"/><ellipse cx="544.5" cy="153.1" rx="4.5" ry="3.1"/></g>
</g>
<path d="M407.7 224.3V124.8M438.55 224.3V124.8M469.4 224.3V124.8M500.25 224.3V124.8M531.1 224.3V124.8M561.95 224.3V124.8M592.8 224.3V124.8M623.65 224.3V124.8M654.5 224.3V124.8M406.5 216.7H682M406.5 194.7H682M406.5 172.7H682M406.5 150.7H682M406.5 128.7H682" stroke="#000" stroke-width="1.3" stroke-dasharray="1.8 6.4" fill="none"/>
<path d="M407.7 224.3v-11.5M407.7 124.8v11.5M438.55 224.3v-11.5M438.55 124.8v11.5M469.4 224.3v-11.5M469.4 124.8v11.5M500.25 224.3v-11.5M500.25 124.8v11.5M531.1 224.3v-11.5M531.1 124.8v11.5M561.95 224.3v-11.5M561.95 124.8v11.5M592.8 224.3v-11.5M592.8 124.8v11.5M623.65 224.3v-11.5M623.65 124.8v11.5M654.5 224.3v-11.5M654.5 124.8v11.5M406.5 216.7h11.5M682 216.7h-11.5M406.5 194.7h11.5M682 194.7h-11.5M406.5 172.7h11.5M682 172.7h-11.5M406.5 150.7h11.5M682 150.7h-11.5M406.5 128.7h11.5M682 128.7h-11.5M413.87 224.3v-6M413.87 124.8v6M420.04 224.3v-6M420.04 124.8v6M426.21 224.3v-6M426.21 124.8v6M432.38 224.3v-6M432.38 124.8v6M444.72 224.3v-6M444.72 124.8v6M450.89 224.3v-6M450.89 124.8v6M457.06 224.3v-6M457.06 124.8v6M463.23 224.3v-6M463.23 124.8v6M475.57 224.3v-6M475.57 124.8v6M481.74 224.3v-6M481.74 124.8v6M487.91 224.3v-6M487.91 124.8v6M494.08 224.3v-6M494.08 124.8v6M506.42 224.3v-6M506.42 124.8v6M512.59 224.3v-6M512.59 124.8v6M518.76 224.3v-6M518.76 124.8v6M524.93 224.3v-6M524.93 124.8v6M537.27 224.3v-6M537.27 124.8v6M543.44 224.3v-6M543.44 124.8v6M549.61 224.3v-6M549.61 124.8v6M555.78 224.3v-6M555.78 124.8v6M568.12 224.3v-6M568.12 124.8v6M574.29 224.3v-6M574.29 124.8v6M580.46 224.3v-6M580.46 124.8v6M586.63 224.3v-6M586.63 124.8v6M598.97 224.3v-6M598.97 124.8v6M605.14 224.3v-6M605.14 124.8v6M611.31 224.3v-6M611.31 124.8v6M617.48 224.3v-6M617.48 124.8v6M629.82 224.3v-6M629.82 124.8v6M635.99 224.3v-6M635.99 124.8v6M642.16 224.3v-6M642.16 124.8v6M648.33 224.3v-6M648.33 124.8v6M660.67 224.3v-6M660.67 124.8v6M666.84 224.3v-6M666.84 124.8v6M673.01 224.3v-6M673.01 124.8v6M679.18 224.3v-6M679.18 124.8v6M406.5 221.1h6M682 221.1h-6M406.5 212.3h6M682 212.3h-6M406.5 207.9h6M682 207.9h-6M406.5 203.5h6M682 203.5h-6M406.5 199.1h6M682 199.1h-6M406.5 190.3h6M682 190.3h-6M406.5 185.9h6M682 185.9h-6M406.5 181.5h6M682 181.5h-6M406.5 177.1h6M682 177.1h-6M406.5 168.3h6M682 168.3h-6M406.5 163.9h6M682 163.9h-6M406.5 159.5h6M682 159.5h-6M406.5 155.1h6M682 155.1h-6M406.5 146.3h6M682 146.3h-6M406.5 141.9h6M682 141.9h-6M406.5 137.5h6M682 137.5h-6M406.5 133.1h6M682 133.1h-6" stroke="#000" stroke-width="1" fill="none"/>
<rect x="406.5" y="124.8" width="275.5" height="99.5" fill="none" stroke="#000" stroke-width="1.6"/>
<clipPath id="c5"><rect x="406.5" y="249.5" width="275.5" height="98.5"/></clipPath>
<g clip-path="url(#c5)">
<rect x="406.5" y="249.5" width="275.5" height="98.5" fill="rgb(6,22,200)"/>
<path d="M523.5 289C523.5 287.42 524.42 286.17 525.5 285C526.58 283.83 528.08 282.92 530 282C531.92 281.08 534.33 280.45 537 279.5C539.67 278.55 542.17 277.58 546 276.3C549.83 275.02 554.33 273.32 560 271.8C565.67 270.28 573.33 268.4 580 267.2C586.67 266 594.67 265.1 600 264.6C605.33 264.1 608.67 263.97 612 264.2C615.33 264.43 618.17 264.7 620 266C621.83 267.3 622.83 269.67 623 272C623.17 274.33 622.5 277.92 621 280C619.5 282.08 617.5 283.08 614 284.5C610.5 285.92 604.83 287.17 600 288.5C595.17 289.83 590 291.17 585 292.5C580 293.83 575.5 295.32 570 296.5C564.5 297.68 557 299.08 552 299.6C547 300.12 543.5 299.9 540 299.6C536.5 299.3 533.42 298.65 531 297.8C528.58 296.95 526.75 295.97 525.5 294.5C524.25 293.03 523.5 290.58 523.5 289Z" fill="rgb(20,98,242)"/>
<clipPath id="r3c"><path d="M537.8 284C538 282.77 538.03 282.53 539.5 281.6C540.97 280.67 543.57 279.57 546.6 278.4C549.63 277.23 554.02 275.7 557.7 274.6C561.38 273.5 565.02 272.63 568.7 271.8C572.38 270.97 576.25 270.2 579.8 269.6C583.35 269 586.63 268.63 590 268.2C593.37 267.77 596.97 267.3 600 267C603.03 266.7 606.33 266.3 608.2 266.4C610.07 266.5 610.63 267 611.2 267.6C611.77 268.2 611.6 268.77 611.6 270C611.6 271.23 611.37 273.33 611.2 275C611.03 276.67 611.3 278.78 610.6 280C609.9 281.22 609.27 281.23 607 282.3C604.73 283.37 600.5 285.05 597 286.4C593.5 287.75 589.67 289.25 586 290.4C582.33 291.55 578.8 292.38 575 293.3C571.2 294.22 567.03 295.35 563.2 295.9C559.37 296.45 555.78 296.52 552 296.6C548.22 296.68 542.87 296.92 540.5 296.4C538.13 295.88 538.17 294.73 537.8 293.5C537.43 292.27 538.3 290.58 538.3 289C538.3 287.42 537.6 285.23 537.8 284Z"/></clipPath>
<g clip-path="url(#r3c)">
<path d="M537.8 284C538 282.77 538.03 282.53 539.5 281.6C540.97 280.67 543.57 279.57 546.6 278.4C549.63 277.23 554.02 275.7 557.7 274.6C561.38 273.5 565.02 272.63 568.7 271.8C572.38 270.97 576.25 270.2 579.8 269.6C583.35 269 586.63 268.63 590 268.2C593.37 267.77 596.97 267.3 600 267C603.03 266.7 606.33 266.3 608.2 266.4C610.07 266.5 610.63 267 611.2 267.6C611.77 268.2 611.6 268.77 611.6 270C611.6 271.23 611.37 273.33 611.2 275C611.03 276.67 611.3 278.78 610.6 280C609.9 281.22 609.27 281.23 607 282.3C604.73 283.37 600.5 285.05 597 286.4C593.5 287.75 589.67 289.25 586 290.4C582.33 291.55 578.8 292.38 575 293.3C571.2 294.22 567.03 295.35 563.2 295.9C559.37 296.45 555.78 296.52 552 296.6C548.22 296.68 542.87 296.92 540.5 296.4C538.13 295.88 538.17 294.73 537.8 293.5C537.43 292.27 538.3 290.58 538.3 289C538.3 287.42 537.6 285.23 537.8 284Z" fill="rgb(44,214,238)"/>
<ellipse cx="575" cy="280.5" rx="33" ry="16" transform="rotate(-13 575 280.5)" fill="rgb(96,236,170)"/>
<ellipse cx="574" cy="280.5" rx="28" ry="16" transform="rotate(-13 574 280.5)" fill="rgb(170,240,90)"/>
<ellipse cx="574" cy="280.5" rx="22.5" ry="16" transform="rotate(-13 574 280.5)" fill="rgb(245,215,40)"/>
<ellipse cx="575.5" cy="280" rx="17.5" ry="8" transform="rotate(-13 575.5 280)" fill="rgb(245,105,28)"/>
<ellipse cx="566" cy="282.5" rx="5" ry="1.2" transform="rotate(-8 566 282.5)" fill="rgb(235,70,20)"/>
<ellipse cx="580" cy="276.5" rx="4" ry="1.5" transform="rotate(-13 580 276.5)" fill="rgb(225,40,20)"/>
</g>
<path d="M537.8 284C538 282.77 538.03 282.53 539.5 281.6C540.97 280.67 543.57 279.57 546.6 278.4C549.63 277.23 554.02 275.7 557.7 274.6C561.38 273.5 565.02 272.63 568.7 271.8C572.38 270.97 576.25 270.2 579.8 269.6C583.35 269 586.63 268.63 590 268.2C593.37 267.77 596.97 267.3 600 267C603.03 266.7 606.33 266.3 608.2 266.4C610.07 266.5 610.63 267 611.2 267.6C611.77 268.2 611.6 268.77 611.6 270C611.6 271.23 611.37 273.33 611.2 275C611.03 276.67 611.3 278.78 610.6 280C609.9 281.22 609.27 281.23 607 282.3C604.73 283.37 600.5 285.05 597 286.4C593.5 287.75 589.67 289.25 586 290.4C582.33 291.55 578.8 292.38 575 293.3C571.2 294.22 567.03 295.35 563.2 295.9C559.37 296.45 555.78 296.52 552 296.6C548.22 296.68 542.87 296.92 540.5 296.4C538.13 295.88 538.17 294.73 537.8 293.5C537.43 292.27 538.3 290.58 538.3 289C538.3 287.42 537.6 285.23 537.8 284Z" fill="none" stroke="#000" stroke-width="3.1" stroke-linejoin="round" stroke-linecap="round"/>
<path d="M582 279.2L592.4 289.6M582 289.6L592.4 279.2" stroke="#000" stroke-width="3.2" stroke-linecap="butt"/>
<path d="M429.8 324.2L429.8 329M436.1 321L436.9 321M434.6 333L435.4 333M437.5 338L446 338M446.2 318.2L449 314.2M458.6 311L459.4 311M470.5 315L464.5 318.6M464.5 318.6L470.5 322M470 308.2L475 305.2M476.1 318L476.9 318M480.5 310L491 306M482 316L490.8 316M480 322.6L489.8 322.6M482 290.5L484.8 295M492.1 289.3L492.9 289.3M482.9 298.8L483.7 298.8M496 328L500.6 328M455.9 335L456.7 335M467 334L473 331M503.5 286.5L506 284.5M502.5 316.6L506 316.6M503.6 304.5L504.4 304.5M503.2 286.8L508.3 284M510 290L519 283M503.5 304L514 299M529 278.5L542 275M555 271.5L565.5 267M572.6 265L573.4 265M578.3 265.4L588.8 261M586 261.5L589.5 260.2M572 304.5L582 301.5M552.2 308.2L560.5 308.2M600 261.5L613.5 257.5M612.6 256.6L616.2 255M625.5 258L636.5 263M644 271L645.5 275M645.5 275L638 278.5M659.5 262.3L663.8 258.7M655.6 268.6L656.4 268.6M616.5 287.5L627.5 283.5M631 287.4L635.5 287.4M641 288.1L645.5 288.1M645.6 284L646.4 284M595.5 298.5L605 293M609.5 300.8L614 299.2M623.6 295.5L624.4 295.5M631.8 301.2L638.5 301.2M597.5 306.9L602.5 306.9M500.5 318.2L513 315.2M526 315.5L537 311.2M522 324.8L524.8 320.6M544.6 317.8L550.2 315.6M550 311.3L558.2 306M571.3 304.8L582.3 301.8M574 314L579.5 311.4M610 303.2L617 300.8M631.5 301.5L638.5 300.8M535.6 320L536.4 320" stroke="#000" stroke-width="2.9" stroke-linecap="round" fill="none"/>
<g fill="#000"><ellipse cx="657.35" cy="280.1" rx="2.35" ry="2.3"/><ellipse cx="588.75" cy="305.1" rx="3.25" ry="2.4"/><ellipse cx="598.25" cy="307.85" rx="3.25" ry="2.85"/></g>
</g>
<path d="M421.4 348V249.5M469.6 348V249.5M517.8 348V249.5M566 348V249.5M614.2 348V249.5M662.4 348V249.5M406.5 336H682M406.5 307.5H682M406.5 279H682M406.5 250.5H682" stroke="#000" stroke-width="1.3" stroke-dasharray="1.8 6.4" fill="none"/>
<path d="M421.4 348v-11.5M421.4 249.5v11.5M469.6 348v-11.5M469.6 249.5v11.5M517.8 348v-11.5M517.8 249.5v11.5M566 348v-11.5M566 249.5v11.5M614.2 348v-11.5M614.2 249.5v11.5M662.4 348v-11.5M662.4 249.5v11.5M406.5 336h11.5M682 336h-11.5M406.5 307.5h11.5M682 307.5h-11.5M406.5 279h11.5M682 279h-11.5M406.5 250.5h11.5M682 250.5h-11.5M411.76 348v-6M411.76 249.5v6M431.04 348v-6M431.04 249.5v6M440.68 348v-6M440.68 249.5v6M450.32 348v-6M450.32 249.5v6M459.96 348v-6M459.96 249.5v6M479.24 348v-6M479.24 249.5v6M488.88 348v-6M488.88 249.5v6M498.52 348v-6M498.52 249.5v6M508.16 348v-6M508.16 249.5v6M527.44 348v-6M527.44 249.5v6M537.08 348v-6M537.08 249.5v6M546.72 348v-6M546.72 249.5v6M556.36 348v-6M556.36 249.5v6M575.64 348v-6M575.64 249.5v6M585.28 348v-6M585.28 249.5v6M594.92 348v-6M594.92 249.5v6M604.56 348v-6M604.56 249.5v6M623.84 348v-6M623.84 249.5v6M633.48 348v-6M633.48 249.5v6M643.12 348v-6M643.12 249.5v6M652.76 348v-6M652.76 249.5v6M672.04 348v-6M672.04 249.5v6M406.5 341.7h6M682 341.7h-6M406.5 330.3h6M682 330.3h-6M406.5 324.6h6M682 324.6h-6M406.5 318.9h6M682 318.9h-6M406.5 313.2h6M682 313.2h-6M406.5 301.8h6M682 301.8h-6M406.5 296.1h6M682 296.1h-6M406.5 290.4h6M682 290.4h-6M406.5 284.7h6M682 284.7h-6M406.5 273.3h6M682 273.3h-6M406.5 267.6h6M682 267.6h-6M406.5 261.9h6M682 261.9h-6M406.5 256.2h6M682 256.2h-6" stroke="#000" stroke-width="1" fill="none"/>
<rect x="406.5" y="249.5" width="275.5" height="98.5" fill="none" stroke="#000" stroke-width="1.6"/>
<text transform="translate(103.18 119.8) scale(1.12 1)" class="t" text-anchor="middle">0.5</text>
<text transform="translate(147.15 119.8) scale(1.12 1)" class="t" text-anchor="middle">1.0</text>
<text transform="translate(191.12 119.8) scale(1.12 1)" class="t" text-anchor="middle">1.5</text>
<text transform="translate(235.1 119.8) scale(1.12 1)" class="t" text-anchor="middle">2.0</text>
<text transform="translate(279.07 119.8) scale(1.12 1)" class="t" text-anchor="middle">2.5</text>
<text transform="translate(323.05 119.8) scale(1.12 1)" class="t" text-anchor="middle">3.0</text>
<text transform="translate(51.5 90.96) scale(1.12 1)" class="t" text-anchor="end">1</text>
<text transform="translate(51.5 75.12) scale(1.12 1)" class="t" text-anchor="end">2</text>
<text transform="translate(51.5 59.28) scale(1.12 1)" class="t" text-anchor="end">3</text>
<text transform="translate(51.5 43.44) scale(1.12 1)" class="t" text-anchor="end">4</text>
<text transform="translate(51.5 27.6) scale(1.12 1)" class="t" text-anchor="end">5</text>
<text transform="translate(51.5 11.76) scale(1.12 1)" class="t" text-anchor="end">6</text>
<text transform="translate(78.05 243.7) scale(1.12 1)" class="t" text-anchor="middle">1.4</text>
<text transform="translate(114.89 243.7) scale(1.12 1)" class="t" text-anchor="middle">1.6</text>
<text transform="translate(151.73 243.7) scale(1.12 1)" class="t" text-anchor="middle">1.8</text>
<text transform="translate(188.57 243.7) scale(1.12 1)" class="t" text-anchor="middle">2.0</text>
<text transform="translate(225.41 243.7) scale(1.12 1)" class="t" text-anchor="middle">2.2</text>
<text transform="translate(262.25 243.7) scale(1.12 1)" class="t" text-anchor="middle">2.4</text>
<text transform="translate(299.09 243.7) scale(1.12 1)" class="t" text-anchor="middle">2.6</text>
<text transform="translate(50.5 230.9) scale(1.12 1)" class="t" text-anchor="end">0.0</text>
<text transform="translate(50.5 209.3) scale(1.12 1)" class="t" text-anchor="end">0.5</text>
<text transform="translate(50.5 187.7) scale(1.12 1)" class="t" text-anchor="end">1.0</text>
<text transform="translate(50.5 166.1) scale(1.12 1)" class="t" text-anchor="end">1.5</text>
<text transform="translate(50.5 144.5) scale(1.12 1)" class="t" text-anchor="end">2.0</text>
<text transform="translate(66.7 367.5) scale(1.12 1)" class="t" text-anchor="middle">1.6</text>
<text transform="translate(123.2 367.5) scale(1.12 1)" class="t" text-anchor="middle">1.8</text>
<text transform="translate(179.7 367.5) scale(1.12 1)" class="t" text-anchor="middle">2.0</text>
<text transform="translate(236.2 367.5) scale(1.12 1)" class="t" text-anchor="middle">2.2</text>
<text transform="translate(292.7 367.5) scale(1.12 1)" class="t" text-anchor="middle">2.4</text>
<text transform="translate(50.5 354.2) scale(1.12 1)" class="t" text-anchor="end">0.4</text>
<text transform="translate(50.5 341.34) scale(1.12 1)" class="t" text-anchor="end">0.6</text>
<text transform="translate(50.5 328.48) scale(1.12 1)" class="t" text-anchor="end">0.8</text>
<text transform="translate(50.5 315.62) scale(1.12 1)" class="t" text-anchor="end">1.0</text>
<text transform="translate(50.5 302.76) scale(1.12 1)" class="t" text-anchor="end">1.2</text>
<text transform="translate(50.5 289.9) scale(1.12 1)" class="t" text-anchor="end">1.4</text>
<text transform="translate(50.5 277.04) scale(1.12 1)" class="t" text-anchor="end">1.6</text>
<text transform="translate(50.5 264.18) scale(1.12 1)" class="t" text-anchor="end">1.8</text>
<text transform="translate(466.3 120.1) scale(1.12 1)" class="t" text-anchor="middle">7.5</text>
<text transform="translate(526.2 120.1) scale(1.12 1)" class="t" text-anchor="middle">8.0</text>
<text transform="translate(586.1 120.1) scale(1.12 1)" class="t" text-anchor="middle">8.5</text>
<text transform="translate(646 120.1) scale(1.12 1)" class="t" text-anchor="middle">9.0</text>
<rect x="378" y="90.2" width="11" height="1.1" fill="#000"/>
<text transform="translate(398.5 96.1) scale(1.12 1)" class="t" text-anchor="end">1</text>
<text transform="translate(398.5 78.3) scale(1.12 1)" class="t" text-anchor="end">0</text>
<text transform="translate(398.5 60.5) scale(1.12 1)" class="t" text-anchor="end">1</text>
<text transform="translate(398.5 42.7) scale(1.12 1)" class="t" text-anchor="end">2</text>
<text transform="translate(398.5 24.9) scale(1.12 1)" class="t" text-anchor="end">3</text>
<text transform="translate(407.7 243.8) scale(1.12 1)" class="t" text-anchor="middle">8.4</text>
<text transform="translate(438.55 243.8) scale(1.12 1)" class="t" text-anchor="middle">8.5</text>
<text transform="translate(469.4 243.8) scale(1.12 1)" class="t" text-anchor="middle">8.6</text>
<text transform="translate(500.25 243.8) scale(1.12 1)" class="t" text-anchor="middle">8.7</text>
<text transform="translate(531.1 243.8) scale(1.12 1)" class="t" text-anchor="middle">8.8</text>
<text transform="translate(561.95 243.8) scale(1.12 1)" class="t" text-anchor="middle">8.9</text>
<text transform="translate(592.8 243.8) scale(1.12 1)" class="t" text-anchor="middle">9.0</text>
<text transform="translate(623.65 243.8) scale(1.12 1)" class="t" text-anchor="middle">9.1</text>
<text transform="translate(654.5 243.8) scale(1.12 1)" class="t" text-anchor="middle">9.2</text>
<text transform="translate(398.5 223) scale(1.12 1)" class="t" text-anchor="end">1.0</text>
<text transform="translate(398.5 201) scale(1.12 1)" class="t" text-anchor="end">1.5</text>
<text transform="translate(398.5 179) scale(1.12 1)" class="t" text-anchor="end">2.0</text>
<text transform="translate(398.5 157) scale(1.12 1)" class="t" text-anchor="end">2.5</text>
<text transform="translate(398.5 135) scale(1.12 1)" class="t" text-anchor="end">3.0</text>
<text transform="translate(421.4 367.5) scale(1.12 1)" class="t" text-anchor="middle">8.5</text>
<text transform="translate(469.6 367.5) scale(1.12 1)" class="t" text-anchor="middle">8.6</text>
<text transform="translate(517.8 367.5) scale(1.12 1)" class="t" text-anchor="middle">8.7</text>
<text transform="translate(566 367.5) scale(1.12 1)" class="t" text-anchor="middle">8.8</text>
<text transform="translate(614.2 367.5) scale(1.12 1)" class="t" text-anchor="middle">8.9</text>
<text transform="translate(662.4 367.5) scale(1.12 1)" class="t" text-anchor="middle">9.0</text>
<text transform="translate(398.5 342.3) scale(1.12 1)" class="t" text-anchor="end">1.0</text>
<text transform="translate(398.5 313.8) scale(1.12 1)" class="t" text-anchor="end">1.5</text>
<text transform="translate(398.5 285.3) scale(1.12 1)" class="t" text-anchor="end">2.0</text>
<text transform="translate(398.5 256.8) scale(1.12 1)" class="t" text-anchor="end">2.5</text>
<text class="a" font-style="italic" style="font-size:20.3px" text-anchor="middle" transform="translate(23.3 51) rotate(-90) scale(1.22 1)" dy="5.5">ϕ</text>
<text class="a" font-style="italic" style="font-size:20.3px" text-anchor="middle" transform="translate(10.7 174.6) rotate(-90) scale(1.22 1)" dy="5.5">ϕ</text>
<text class="a" font-style="italic" style="font-size:20.3px" text-anchor="middle" transform="translate(10.6 298.3) rotate(-90) scale(1.22 1)" dy="5.5">ϕ</text>
<g transform="translate(362.1 81.9) rotate(-90)">
<text class="a" x="0" y="0" textLength="28" lengthAdjust="spacingAndGlyphs">log</text>
<text class="a" font-style="italic" x="35" y="0" textLength="16" lengthAdjust="spacingAndGlyphs">D</text>
<text class="a" font-style="italic" style="font-size:15px" x="51.5" y="4" textLength="10" lengthAdjust="spacingAndGlyphs">L</text>
</g>
<g transform="translate(362.1 206.1) rotate(-90)">
<text class="a" x="0" y="0" textLength="28" lengthAdjust="spacingAndGlyphs">log</text>
<text class="a" font-style="italic" x="35" y="0" textLength="16" lengthAdjust="spacingAndGlyphs">D</text>
<text class="a" font-style="italic" style="font-size:15px" x="51.5" y="4" textLength="10" lengthAdjust="spacingAndGlyphs">L</text>
</g>
<g transform="translate(362.1 329.9) rotate(-90)">
<text class="a" x="0" y="0" textLength="28" lengthAdjust="spacingAndGlyphs">log</text>
<text class="a" font-style="italic" x="35" y="0" textLength="16" lengthAdjust="spacingAndGlyphs">D</text>
<text class="a" font-style="italic" style="font-size:15px" x="51.5" y="4" textLength="10" lengthAdjust="spacingAndGlyphs">L</text>
</g>
<text class="a" font-style="italic" x="197.7" y="391.5" text-anchor="middle">θ</text>
<text class="a" x="515.5" y="391.2" textLength="24.5" lengthAdjust="spacingAndGlyphs">log</text>
<path d="M550.3 390.6C551.2 390.2 552.6 389.3 553.6 387.2C554.8 384.5 555.6 380 556.8 377.6" stroke="#000" stroke-width="1.1" fill="none"/><path d="M549 390.4C549.6 391.8 551.2 391.6 551.6 390.2" stroke="#000" stroke-width="1.8" fill="none"/><path d="M556.9 377.6C557.8 381 558.8 386 559.8 389.6" stroke="#000" stroke-width="2.3" fill="none"/><path d="M559.8 389.6C563 385 567 380.5 570.6 377.3" stroke="#000" stroke-width="1.1" fill="none"/><path d="M570.6 377.3C569.6 381 568.6 386.5 569 390.3C569.5 391.2 570.4 391 571.1 390.2" stroke="#000" stroke-width="2.1" fill="none"/>
</svg></body></html>
